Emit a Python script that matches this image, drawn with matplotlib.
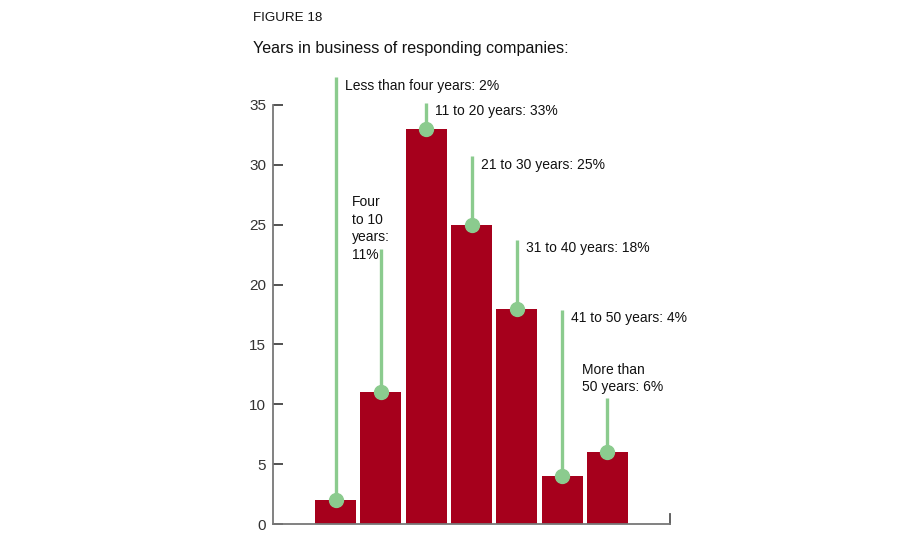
import matplotlib
matplotlib.use("Agg")
import matplotlib.pyplot as plt

categories = ["Less than four years", "Four to 10 years", "11 to 20 years",
              "21 to 30 years", "31 to 40 years", "41 to 50 years", "More than 50 years"]
values = [2, 11, 33, 25, 18, 4, 6]
labels = ["Less than four years: 2%", "Four\nto 10\nyears:\n11%", "11 to 20 years: 33%",
          "21 to 30 years: 25%", "31 to 40 years: 18%", "41 to 50 years: 4%",
          "More than\n50 years: 6%"]
line_tops = [37.3, 23.0, 35.2, 30.7, 23.7, 17.9, 10.5]
yticks = [0, 5, 10, 15, 20, 25, 30, 35]

RED = "#a6001c"
GREEN = "#8bcb8e"
plt.rcParams['font.family'] = ['Liberation Sans', 'DejaVu Sans']

fig = plt.figure(figsize=(9, 5.5), dpi=100)
ax = fig.add_axes([273/900, 1-524/550, (670-273)/900, (524-105)/550])
x = list(range(len(values)))
ax.bar(x, values, width=0.905, color=RED, zorder=2)
ax.set_xlim(-1.38, 7.38)
ax.set_ylim(0, 35)

for xi, v, top in zip(x, values, line_tops):
    ax.plot([xi, xi], [v, top], color=GREEN, lw=2.4, zorder=3, clip_on=False,
            solid_capstyle='butt')
    ax.plot([xi], [v], 'o', color=GREEN, ms=10, zorder=4, clip_on=False)

tc = '#111111'
ax.text(0 + 0.2, 37.3 - 0.1, labels[0], fontsize=10, va='top', ha='left', color=tc)
ax.text(1 - 0.64, 27.5, labels[1], fontsize=10, va='top', ha='left', color=tc, linespacing=1.35)
ax.text(2 + 0.2, 35.2 - 0.1, labels[2], fontsize=10, va='top', ha='left', color=tc)
ax.text(3 + 0.2, 30.7 - 0.1, labels[3], fontsize=10, va='top', ha='left', color=tc)
ax.text(4 + 0.2, 23.7 - 0.1, labels[4], fontsize=10, va='top', ha='left', color=tc)
ax.text(5 + 0.2, 17.9 - 0.1, labels[5], fontsize=10, va='top', ha='left', color=tc)
ax.text(6 - 0.57, 13.45, labels[6], fontsize=10, va='top', ha='left', color=tc, linespacing=1.3)

for s in ['top', 'right']:
    ax.spines[s].set_visible(False)
ax.spines['left'].set_color('#777777')
ax.spines['bottom'].set_color('#777777')
ax.spines['left'].set_linewidth(1.3)
ax.spines['bottom'].set_linewidth(1.3)
ax.set_yticks(yticks)
ax.set_xticks([])
ax.tick_params(axis='y', direction='in', length=7.5, width=1.3, color='#444444',
               labelsize=11, labelcolor='#333333', pad=5)
ax.plot([7.38, 7.38], [0, 0.8], color='#555555', lw=1.3, clip_on=False)

fig.text(253/900, 1-18/550, "FIGURE 18", fontsize=9.6, va='center', ha='left', color=tc)
fig.text(253/900, 1-48/550, "Years in business of responding companies:", fontsize=11.6,
         va='center', ha='left', color=tc)

fig.savefig("out.png", dpi=100)
